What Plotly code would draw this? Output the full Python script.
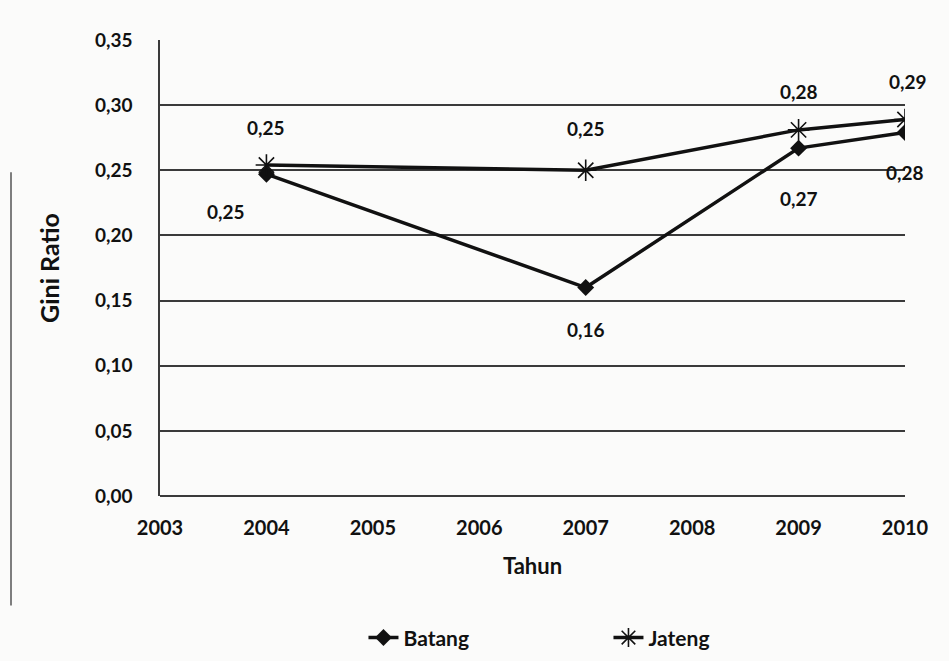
import plotly.graph_objects as go

# Gini Ratio, Kabupaten Batang vs Jawa Tengah
years = [2004, 2007, 2009, 2010]
batang = [0.247, 0.160, 0.267, 0.279]
jateng = [0.254, 0.250, 0.281, 0.289]
x_ticks = [2003, 2004, 2005, 2006, 2007, 2008, 2009, 2010]
y_ticks = [0.00, 0.05, 0.10, 0.15, 0.20, 0.25, 0.30, 0.35]

# label offsets (px) for each point
batang_shift = [(-40, -37), (0, -42), (0, -50), (0, -40)]
jateng_shift = [(0, 38), (0, 42), (0, 38), (3, 38)]

FONT = "Lato"
INK = "#111111"

fig = go.Figure()
fig.add_trace(go.Scatter(
    x=years, y=batang, name="Batang", mode="lines+markers",
    line=dict(color=INK, width=3.5),
    marker=dict(symbol="diamond", size=13, color=INK),
))
fig.add_trace(go.Scatter(
    x=years, y=jateng, name="Jateng", mode="lines+markers",
    line=dict(color=INK, width=3.5),
    marker=dict(symbol="asterisk-open", size=18, color=INK,
                line=dict(color="#333333", width=1.6)),
))

def fmt(v):
    return f"{v:.2f}".replace(".", ",")

for xs, ys, shifts in ((years, batang, batang_shift), (years, jateng, jateng_shift)):
    for xv, yv, (dx, dy) in zip(xs, ys, shifts):
        fig.add_annotation(x=xv, y=yv, text=fmt(yv), showarrow=False,
                           xshift=dx, yshift=dy,
                           font=dict(family=FONT, size=19, color=INK, weight="bold"))

# left frame edge of the chart area
fig.add_shape(type="line", xref="paper", yref="paper",
              x0=-0.2, x1=-0.2, y0=-0.24, y1=0.71,
              line=dict(color="#555555", width=1.5))

fig.update_layout(
    width=949, height=661,
    margin=dict(l=160, r=44, t=40, b=165, autoexpand=False),
    paper_bgcolor="#fbfbfa", plot_bgcolor="#fbfbfa",
    separators=",.",
    font=dict(family=FONT, size=19, color=INK),
    showlegend=True,
    legend=dict(orientation="h", xref="container", yref="container",
                x=0.383, xanchor="left", y=0.035, yanchor="middle",
                entrywidth=200, entrywidthmode="pixels",
                font=dict(family=FONT, size=21, color=INK, weight="bold"),
                bgcolor="rgba(0,0,0,0)"),
)
fig.update_xaxes(
    range=[2003, 2010], tickvals=x_ticks, ticktext=[str(v) for v in x_ticks],
    showgrid=False, zeroline=False, showline=False, ticks="",
    ticklabelstandoff=18, automargin=False,
    tickfont=dict(family=FONT, size=20, color=INK, weight="bold"),
    title=dict(text="Tahun", standoff=20,
               font=dict(family=FONT, size=22, color=INK, weight="bold")),
)
fig.update_yaxes(
    range=[0, 0.35], tickvals=y_ticks, tickformat=".2f",
    showgrid=True, gridcolor="#3a3a3a", gridwidth=1.5,
    zeroline=True, zerolinecolor="#3a3a3a", zerolinewidth=1.5,
    showline=True, linecolor="#3a3a3a", linewidth=1.5, ticks="",
    ticklabelstandoff=22, automargin=False,
    tickfont=dict(family=FONT, size=19, color=INK, weight="bold"),
    title=dict(text="Gini Ratio", standoff=28,
               font=dict(family=FONT, size=25, color=INK, weight="bold")),
)

fig.write_html("out.html")
